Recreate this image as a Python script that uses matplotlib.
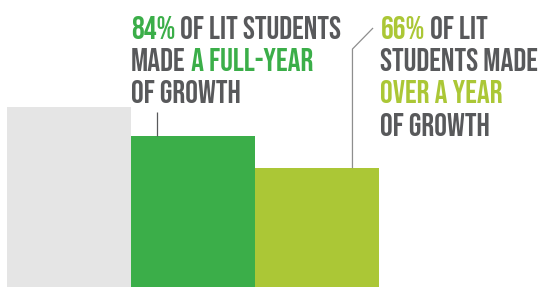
import matplotlib
matplotlib.use('Agg')
import matplotlib.pyplot as plt
from matplotlib import font_manager

categories = ['All students', 'Full-year growth', 'Over a year of growth']
values = [100, 84, 66]
bar_colors = ['#E5E5E5', '#3BAE49', '#ABC736']

text_gray = '#58595B'
green = '#3BAE49'
lime = '#ABC736'

label1 = [
    [('84%', green), (' OF LIT STUDENTS', text_gray)],
    [('MADE', text_gray), (' A FULL-YEAR', green)],
    [('OF GROWTH', text_gray)],
]
label2 = [
    [('66%', lime), (' OF LIT', text_gray)],
    [('STUDENTS MADE', text_gray)],
    [('OVER A YEAR', lime)],
    [('OF GROWTH', text_gray)],
]

names = {f.name for f in font_manager.fontManager.ttflist}
if 'Bebas Neue' in names:
    family, weight, FS, capr = ['Bebas Neue', 'DejaVu Sans'], 'normal', 23, 0.70
else:
    family, weight, FS, capr = ['DejaVu Sans'], 'bold', 14, 0.73

fig = plt.figure(figsize=(5.49, 2.87), dpi=100)
ax = fig.add_axes([0, 0, 1, 1])
ax.set_xlim(-69 / 124, 480 / 124)
ax.set_ylim(0, 287 / 1.8)
ax.axis('off')

x = list(range(len(values)))
ax.bar(x, values, width=1.0, color=bar_colors, linewidth=0)

# leader lines
ax.plot([0.710, 0.710], [values[1], 97.2], color=text_gray, lw=0.9,
        solid_capstyle='butt')
ax.plot([2.286, 2.286, 2.452], [values[2], 132.2, 143.9], color='#8E8E8E', lw=0.9,
        solid_capstyle='butt')


def rainbow(x0, baselines, lines):
    for by, pieces in zip(baselines, lines):
        t = ax.text(x0, by, pieces[0][0], color=pieces[0][1], fontsize=FS,
                    fontweight=weight, family=family, va='baseline', ha='left')
        prev = t
        for s, c in pieces[1:]:
            prev = ax.annotate(s, xy=(1, 0), xycoords=prev, va='bottom', ha='left',
                               color=c, fontsize=FS, fontweight=weight, family=family)


# line centres (pixels from top) of the reference text
centers1 = [27.5, 60, 92.3]
centers2 = [27.5, 60, 92.3, 125]
cap = FS * 100 / 72 * capr
rainbow(0.5, [(287 - (c + cap / 2)) / 1.8 for c in centers1], label1)
rainbow(2.512, [(287 - (c + cap / 2)) / 1.8 for c in centers2], label2)

fig.savefig('out.png', dpi=100)
